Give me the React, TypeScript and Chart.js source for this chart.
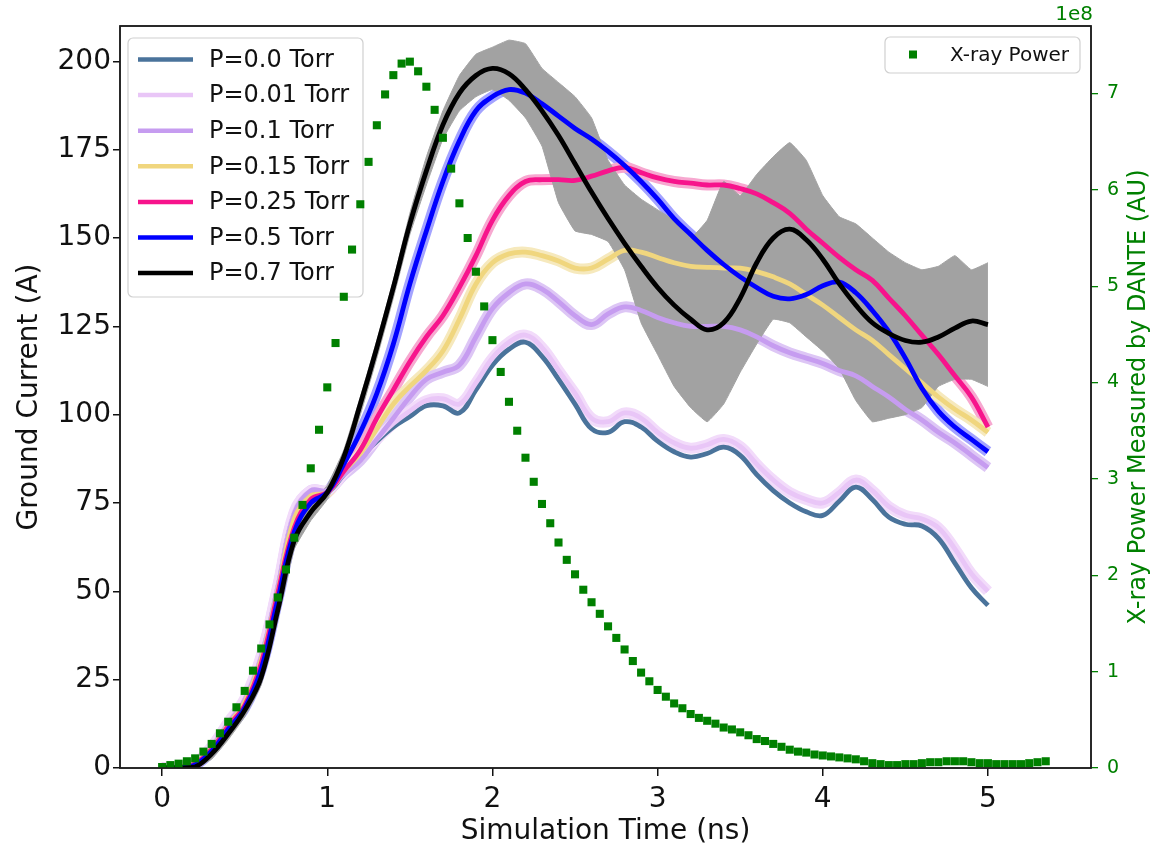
import React, { useEffect, useRef } from "react";
import { Chart, registerables } from "chart.js";

Chart.register(...registerables);

// ---------------- data ----------------
const TIME_NS = [
  0.0, 0.1, 0.2, 0.3, 0.4, 0.5, 0.6, 0.7, 0.8, 0.9,
  1.0, 1.1, 1.2, 1.3, 1.4, 1.5, 1.6, 1.7, 1.8, 1.9,
  2.0, 2.1, 2.2, 2.3, 2.4, 2.5, 2.6, 2.7, 2.8, 2.9,
  3.0, 3.1, 3.2, 3.3, 3.4, 3.5, 3.6, 3.7, 3.8, 3.9,
  4.0, 4.1, 4.2, 4.3, 4.4, 4.5, 4.6, 4.7, 4.8, 4.9, 5.0,
];

const P_0_0 = [
  0, 0.3, 1.4, 5.9, 12.6, 19.2, 31.4, 51, 72, 77.5,
  78, 83, 88, 92.5, 96.5, 99.5, 102.5, 102.5, 100.5, 107,
  114, 118.5, 120.5, 116.5, 110, 103, 96, 95, 98, 96.5,
  92.5, 89.5, 88, 89, 90.8, 88.5, 83, 78.5, 75, 72.5,
  71.5, 75.5, 79.5, 76, 71, 69, 68.5, 65, 58, 51, 46,
];
const P_0_01 = [
  0, 0.3, 1.5, 6.1, 12.9, 19.6, 31.8, 51.5, 72.5, 78.5,
  78.5, 83.5, 88.5, 93, 97.5, 101, 104, 104.5, 103, 109,
  116, 120.5, 122.5, 119, 112.5, 106, 99, 98, 100.5, 99,
  95, 92, 90.5, 91.5, 93, 91, 86, 81.5, 78, 76,
  75, 78, 81.5, 78.5, 74, 71.5, 70.5, 68, 62, 55, 50,
];
const P_0_1 = [
  0, 0.3, 1.4, 5.9, 12.6, 19.2, 31.4, 51, 72, 78.5,
  78.5, 83, 87, 93, 99, 105, 110, 112, 114, 122,
  130, 134.5, 137, 135.5, 132, 128, 125.5, 128.5, 130.5, 129.5,
  127.5, 126, 125, 125, 125, 124, 122, 119.5, 117.5, 116,
  114.5, 112.5, 111, 108, 105, 101.5, 98.5, 95, 92, 88.5, 85,
];
const P_0_15 = [
  0, 0.3, 1.3, 5.6, 12.2, 18.6, 30.7, 50, 70.5, 77,
  78, 84, 89, 96, 103, 108, 112.5, 118, 127, 137,
  143, 145.5, 146, 145, 143.5, 141.5, 141.5, 144, 146.5, 146,
  144.5, 143, 142, 141.7, 141.5, 141.5, 140.5, 139, 137, 134,
  131, 127.5, 124, 121, 117, 113, 109, 105, 101.5, 98.5, 95,
];
const P_0_25 = [
  0, 0.2, 1.2, 5.3, 11.8, 17.7, 29.6, 49.4, 68, 76,
  78, 84, 90, 99, 107, 115, 122, 128, 136, 145,
  155, 162, 166, 166.5, 166.5, 166.3, 167.5, 169, 170, 168.5,
  167, 166, 165.5, 165, 165, 164, 162.5, 160, 157, 152.5,
  148.5, 144.5, 141, 138, 133, 128, 122.5, 117, 111, 105, 96.5,
];
const P_0_5 = [
  0, 0.1, 0.9, 4.8, 11, 17, 28, 47.5, 66.8, 75,
  78, 86, 95, 106, 120, 137, 152, 166, 177.5, 186,
  190, 192, 191, 188, 184.5, 181, 178, 174.5, 170.5, 166,
  161, 155.5, 151, 146.5, 142.5, 139, 136, 133.5, 132.8, 134,
  136.5, 137.5, 134.5, 129.5, 123.5, 116, 107.5, 101, 96.5, 93, 89.5,
];
const P_0_7 = [
  0, 0, 0.3, 4, 9.7, 16.3, 25.7, 44.6, 64.4, 72.4,
  78, 88, 103, 119, 136, 154, 169, 182, 191, 196,
  198, 196.5, 192, 186, 179, 171, 163, 155.5, 148.5, 142,
  136, 131, 127, 124, 126, 133, 143, 150, 152.5, 149.5,
  144, 137, 131, 126, 123, 121, 120.5, 122, 124.5, 126.5, 125.5,
];

// raw (noisy) P=0.7 signal: upper / lower envelope of the grey cloud
const RAW_0_7_UPPER = [
  0, 0.5, 1.8, 6, 11.5, 18, 28, 47, 67, 75,
  80, 90, 105, 121, 138, 157, 173, 186, 196, 202,
  204, 206, 205, 198, 194, 190, 184, 172, 165, 161,
  158, 155, 150, 155, 166, 162, 168, 173, 177, 172,
  162, 156, 154, 150, 146, 143, 141, 142, 145, 141, 143,
];
const RAW_0_7_LOWER = [
  0, 0, 0, 2.5, 8, 14.5, 23.5, 42, 62, 70,
  76, 86, 100, 116, 133, 151, 165, 178, 186, 190,
  192, 189, 184, 176, 160, 152, 151, 149, 141, 126,
  117, 108, 102, 98, 103, 112, 120, 127, 126, 122,
  118, 113, 104, 98, 99, 100, 102, 108, 110, 110, 108,
];

const XRAY_TIME_NS = [
  0.0, 0.05, 0.1, 0.15, 0.2, 0.25, 0.3, 0.35, 0.4, 0.45,
  0.5, 0.55, 0.6, 0.65, 0.7, 0.75, 0.8, 0.85, 0.9, 0.95,
  1.0, 1.05, 1.1, 1.15, 1.2, 1.25, 1.3, 1.35, 1.4, 1.45,
  1.5, 1.55, 1.6, 1.65, 1.7, 1.75, 1.8, 1.85, 1.9, 1.95,
  2.0, 2.05, 2.1, 2.15, 2.2, 2.25, 2.3, 2.35, 2.4, 2.45,
  2.5, 2.55, 2.6, 2.65, 2.7, 2.75, 2.8, 2.85, 2.9, 2.95,
  3.0, 3.05, 3.1, 3.15, 3.2, 3.25, 3.3, 3.35, 3.4, 3.45,
  3.5, 3.55, 3.6, 3.65, 3.7, 3.75, 3.8, 3.85, 3.9, 3.95,
  4.0, 4.05, 4.1, 4.15, 4.2, 4.25, 4.3, 4.35, 4.4, 4.45,
  4.5, 4.55, 4.6, 4.65, 4.7, 4.75, 4.8, 4.85, 4.9, 4.95,
  5.0, 5.05, 5.1, 5.15, 5.2, 5.25, 5.3, 5.35,
];
// in units of 1e8
const XRAY_POWER = [
  0.01, 0.03, 0.045, 0.07, 0.1, 0.17, 0.25, 0.36, 0.48, 0.63,
  0.8, 1.01, 1.24, 1.49, 1.77, 2.06, 2.39, 2.73, 3.11, 3.51,
  3.95, 4.41, 4.89, 5.38, 5.85, 6.29, 6.67, 6.99, 7.19, 7.31,
  7.33, 7.23, 7.07, 6.83, 6.54, 6.22, 5.86, 5.5, 5.15, 4.79,
  4.44, 4.11, 3.8, 3.5, 3.22, 2.97, 2.74, 2.54, 2.34, 2.16,
  2.01, 1.85, 1.72, 1.6, 1.47, 1.35, 1.23, 1.11, 0.99, 0.9,
  0.81, 0.74, 0.67, 0.62, 0.56, 0.52, 0.49, 0.46, 0.42, 0.4,
  0.37, 0.34, 0.3, 0.28, 0.25, 0.22, 0.19, 0.17, 0.16, 0.14,
  0.13, 0.12, 0.11, 0.1, 0.09, 0.07, 0.05, 0.04, 0.03, 0.03,
  0.04, 0.04, 0.05, 0.06, 0.06, 0.07, 0.07, 0.07, 0.06, 0.05,
  0.05, 0.04, 0.04, 0.04, 0.04, 0.05, 0.06, 0.07,
];

const SERIES_LABELS = [
  "P=0.0 Torr",
  "P=0.01 Torr",
  "P=0.1 Torr",
  "P=0.15 Torr",
  "P=0.25 Torr",
  "P=0.5 Torr",
  "P=0.7 Torr",
];
const SERIES_VALUES = [P_0_0, P_0_01, P_0_1, P_0_15, P_0_25, P_0_5, P_0_7];
const XRAY_LABEL = "X-ray Power";

const X_TICKS = [0, 1, 2, 3, 4, 5];
const Y_TICKS = [0, 25, 50, 75, 100, 125, 150, 175, 200];
const Y2_TICKS = [0, 1, 2, 3, 4, 5, 6, 7];

const X_TITLE = "Simulation Time (ns)";
const Y_TITLE = "Ground Current (A)";
const Y2_TITLE = "X-ray Power Measured by DANTE (AU)";
const Y2_OFFSET = "1e8";

// ---------------- styles ----------------
const LINE_COLORS = ["#4a739b", "#e9c6f7", "#c69cf0", "#f0d67e", "#f7148c", "#0000ff", "#000000"];
const HALO_COLORS = [null, "#f2dbfa", "#ddc6f5", "#f6e9bd", "#f7a8d0", "#a3a3ff", null];
const GREEN = "#008000";
const GREY = "#a2a2a2";
const FONT = "'DejaVu Sans', 'Noto Sans', sans-serif";

const W = 1150;
const H = 847;

function roundRectPath(ctx: CanvasRenderingContext2D, x: number, y: number, w: number, h: number, r: number) {
  ctx.beginPath();
  ctx.moveTo(x + r, y);
  ctx.lineTo(x + w - r, y);
  ctx.arcTo(x + w, y, x + w, y + r, r);
  ctx.lineTo(x + w, y + h - r);
  ctx.arcTo(x + w, y + h, x + w - r, y + h, r);
  ctx.lineTo(x + r, y + h);
  ctx.arcTo(x, y + h, x, y + h - r, r);
  ctx.lineTo(x, y + r);
  ctx.arcTo(x, y, x + r, y, r);
  ctx.closePath();
}

function drawMainLegend(ctx: CanvasRenderingContext2D) {
  ctx.save();
  roundRectPath(ctx, 128, 38, 235, 259, 5);
  ctx.fillStyle = "rgba(255,255,255,0.8)";
  ctx.fill();
  ctx.strokeStyle = "#d0d0d0";
  ctx.lineWidth = 1.2;
  ctx.stroke();
  ctx.font = `24px ${FONT}`;
  ctx.textBaseline = "middle";
  ctx.textAlign = "left";
  SERIES_LABELS.forEach((lab, i) => {
    const y = 59.5 + i * 35.6;
    ctx.strokeStyle = LINE_COLORS[i];
    ctx.lineWidth = 4.5;
    ctx.beginPath();
    ctx.moveTo(138, y);
    ctx.lineTo(193, y);
    ctx.stroke();
    ctx.fillStyle = "#111";
    ctx.fillText(lab, 209, y + 1);
  });
  ctx.restore();
}

const decorPlugin = {
  id: "decor",
  beforeDatasetDraw(chart: any, args: any) {
    // ax1 legend sits under the twin-axis (x-ray) markers
    if (args.index === 0) {
      const ctx: CanvasRenderingContext2D = chart.ctx;
      const { left, right, top, bottom } = chart.chartArea;
      ctx.save();
      ctx.strokeStyle = "#1c1c1c";
      ctx.lineWidth = 1.5;
      ctx.strokeRect(left, top, right - left, bottom - top);
      ctx.restore();
      drawMainLegend(ctx);
    }
  },
  afterDraw(chart: any) {
    const ctx: CanvasRenderingContext2D = chart.ctx;
    const { left, right, top, bottom } = chart.chartArea;
    ctx.save();

    // frame
    ctx.strokeStyle = "#1c1c1c";
    ctx.lineWidth = 1.5;
    ctx.strokeRect(left, top, right - left, bottom - top);

    // x-ray legend
    roundRectPath(ctx, 885, 37, 195, 36, 5);
    ctx.fillStyle = "rgba(255,255,255,0.8)";
    ctx.fill();
    ctx.strokeStyle = "#d0d0d0";
    ctx.lineWidth = 1.2;
    ctx.stroke();
    ctx.fillStyle = GREEN;
    ctx.fillRect(909, 50.5, 8, 8);
    ctx.fillStyle = "#111";
    ctx.font = `20px ${FONT}`;
    ctx.textBaseline = "middle";
    ctx.textAlign = "left";
    ctx.fillText(XRAY_LABEL, 950, 55.5);

    // axis titles
    ctx.fillStyle = "#111";
    ctx.font = `28px ${FONT}`;
    ctx.textAlign = "center";
    ctx.textBaseline = "alphabetic";
    ctx.fillText(X_TITLE, (left + right) / 2, 839);

    ctx.save();
    ctx.translate(37, (top + bottom) / 2);
    ctx.rotate(-Math.PI / 2);
    ctx.fillText(Y_TITLE, 0, 0);
    ctx.restore();

    ctx.save();
    ctx.fillStyle = GREEN;
    ctx.font = `24px ${FONT}`;
    ctx.translate(1145, (top + bottom) / 2);
    ctx.rotate(-Math.PI / 2);
    ctx.fillText(Y2_TITLE, 0, 0);
    ctx.restore();

    ctx.fillStyle = GREEN;
    ctx.font = `20px ${FONT}`;
    ctx.textAlign = "right";
    ctx.fillText(Y2_OFFSET, 1093, 20);

    ctx.restore();
  },
};

export default function App() {
  const ref = useRef<HTMLCanvasElement | null>(null);

  useEffect(() => {
    if (!ref.current) return;
    const toXY = (ts: number[], vs: number[]) => ts.map((t, i) => ({ x: t, y: vs[i] }));

    const datasets: any[] = [];
    // x-ray scatter (top-most)
    datasets.push({
      type: "line",
      label: XRAY_LABEL,
      data: toXY(XRAY_TIME_NS, XRAY_POWER),
      yAxisID: "y1",
      showLine: false,
      pointStyle: "rect",
      pointRadius: 5.7,
      pointBorderWidth: 0,
      pointBackgroundColor: GREEN,
      borderColor: GREEN,
      order: 0,
    });
    // smooth lines, P=0.7 on top
    for (let i = SERIES_LABELS.length - 1; i >= 0; i--) {
      datasets.push({
        type: "line",
        label: SERIES_LABELS[i],
        data: toXY(TIME_NS, SERIES_VALUES[i]),
        yAxisID: "y",
        borderColor: LINE_COLORS[i],
        borderWidth: 4.8,
        pointRadius: 0,
        tension: 0.4,
        fill: false,
        order: SERIES_LABELS.length - i,
      });
    }
    // grey raw cloud for P=0.7
    const lowerIndex = datasets.length;
    datasets.push({
      type: "line",
      label: "raw lower",
      data: toXY(TIME_NS, RAW_0_7_LOWER),
      yAxisID: "y",
      borderColor: GREY,
      borderWidth: 1,
      pointRadius: 0,
      tension: 0.1,
      fill: false,
      order: 8,
    });
    datasets.push({
      type: "line",
      label: "raw upper",
      data: toXY(TIME_NS, RAW_0_7_UPPER),
      yAxisID: "y",
      borderColor: GREY,
      borderWidth: 1,
      backgroundColor: GREY,
      pointRadius: 0,
      tension: 0.1,
      fill: lowerIndex,
      order: 9,
    });
    // halos of raw data for other pressures
    HALO_COLORS.forEach((c, i) => {
      if (!c) return;
      datasets.push({
        type: "line",
        label: SERIES_LABELS[i] + " raw",
        data: toXY(TIME_NS, SERIES_VALUES[i]),
        yAxisID: "y",
        borderColor: c,
        borderWidth: 11,
        pointRadius: 0,
        tension: 0.4,
        fill: false,
        order: 10 + i,
      });
    });

    const chart = new Chart(ref.current, {
      type: "line",
      data: { datasets },
      plugins: [decorPlugin],
      options: {
        animation: false,
        responsive: false,
        devicePixelRatio: 1,
        layout: { padding: { top: 26, left: 0, right: 0, bottom: 0 }, autoPadding: false },
        plugins: { legend: { display: false }, tooltip: { enabled: false }, title: { display: false } },
        scales: {
          x: {
            type: "linear",
            position: "bottom",
            min: -0.255,
            max: 5.624,
            afterBuildTicks: (s: any) => {
              s.ticks = X_TICKS.map((v) => ({ value: v }));
            },
            afterFit: (s: any) => {
              s.height = H - 768;
            },
            grid: { drawOnChartArea: false, drawTicks: true, tickLength: 8, color: "#111", lineWidth: 1.5 },
            border: { display: false },
            ticks: {
              color: "#111",
              font: { size: 28, family: FONT },
              padding: 7,
              maxRotation: 0,
              autoSkip: false,
              callback: (v: any) => String(v),
            },
          },
          y: {
            type: "linear",
            position: "left",
            min: 0,
            max: 210,
            afterBuildTicks: (s: any) => {
              s.ticks = Y_TICKS.map((v) => ({ value: v }));
            },
            afterFit: (s: any) => {
              s.width = 120;
            },
            grid: { drawOnChartArea: false, drawTicks: true, tickLength: 7, color: "#111", lineWidth: 1.5 },
            border: { display: false },
            ticks: {
              color: "#111",
              font: { size: 28, family: FONT },
              padding: 2,
              autoSkip: false,
              callback: (v: any) => String(v),
            },
          },
          y1: {
            type: "linear",
            position: "right",
            min: 0,
            max: 7.7,
            afterBuildTicks: (s: any) => {
              s.ticks = Y2_TICKS.map((v) => ({ value: v }));
            },
            afterFit: (s: any) => {
              s.width = W - 1091;
            },
            grid: { drawOnChartArea: false, drawTicks: true, tickLength: 7, color: GREEN, lineWidth: 1.3 },
            border: { display: false },
            ticks: {
              color: GREEN,
              font: { size: 19, family: FONT },
              padding: 9,
              autoSkip: false,
              callback: (v: any) => String(v),
            },
          },
        },
      },
    });
    return () => chart.destroy();
  }, []);

  return (
    <div style={{ position: "fixed", left: 0, top: 0, width: W, height: H, background: "#fff" }}>
      <canvas ref={ref} width={W} height={H} style={{ width: W, height: H, display: "block" }} />
    </div>
  );
}
